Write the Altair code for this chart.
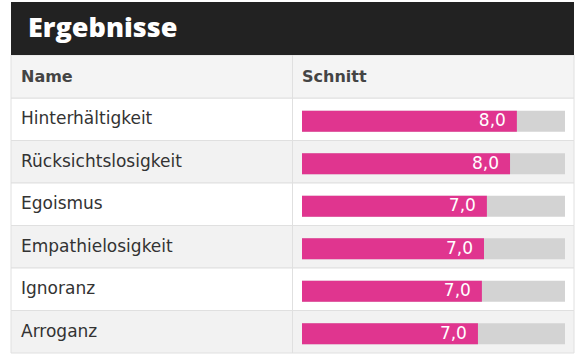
import altair as alt
import pandas as pd

# ---- data ----
names = ["Hinterhältigkeit", "Rücksichtslosigkeit", "Egoismus",
         "Empathielosigkeit", "Ignoranz", "Arroganz"]
values = [8.17, 7.91, 7.03, 6.92, 6.84, 6.69]
labels = ["8,0", "8,0", "7,0", "7,0", "7,0", "7,0"]
scale_max = 10
title_text = "Ergebnisse"
col_headers = ["Name", "Schnitt"]

df = pd.DataFrame({
    "name": names,
    "value": values,
    "label": labels,
    "row": list(range(len(names))),
    "full": [scale_max] * len(names),
    "zero": [0] * len(names),
})

FONT = "DejaVu Sans"
PINK = "#E0358F"

yscale = alt.Scale(domain=names, range=[98, 353], paddingInner=0, paddingOuter=0)
xscale = alt.Scale(domain=[0, scale_max], range=[302, 565], nice=False, zero=True)
Y = alt.Y("name:N", scale=yscale, axis=None, sort=names)

base = alt.Chart(df)

row_bg = base.mark_rect(stroke="#e0e0e0", strokeWidth=1).encode(
    y=Y,
    x=alt.value(11), x2=alt.value(574),
    color=alt.Color("row:O", scale=alt.Scale(domain=[0, 1, 2, 3, 4, 5],
                    range=["#ffffff", "#f2f2f2", "#ffffff", "#f2f2f2", "#ffffff", "#f2f2f2"]),
                    legend=None),
)

hdr_df = pd.DataFrame({"h": col_headers, "px": [21, 302]})
header_bg = alt.Chart(hdr_df.head(1)).mark_rect(fill="#f4f4f4", stroke="#e0e0e0", strokeWidth=1).encode(
    x=alt.value(11), x2=alt.value(574), y=alt.value(55), y2=alt.value(98)
)
header_txt = alt.Chart(hdr_df).mark_text(
    align="left", baseline="middle", font=FONT, fontSize=16, fontWeight="bold", color="#444444"
).encode(x=alt.X("px:Q", scale=None), y=alt.value(77), text="h:N")

divider = alt.Chart(hdr_df.head(1)).mark_rule(color="#e0e0e0", strokeWidth=1).encode(
    x=alt.value(292.5), y=alt.value(55), y2=alt.value(353)
)

title_df = pd.DataFrame({"t": [title_text]})
title_bg = alt.Chart(title_df).mark_rect(fill="#222222").encode(
    x=alt.value(11), x2=alt.value(574), y=alt.value(2), y2=alt.value(55)
)
title_txt = alt.Chart(title_df).mark_text(
    align="left", baseline="alphabetic", font="Open Sans", fontSize=27, fontWeight=800, color="#ffffff"
).encode(x=alt.value(28), y=alt.value(37), text="t:N")

bg_bar = base.mark_bar(color="#d3d3d3", size=21, yOffset=2).encode(
    y=Y, x=alt.X("full:Q", scale=xscale, axis=None), x2="zero:Q"
)
bar = base.mark_bar(color=PINK, size=21, yOffset=2).encode(
    y=Y, x=alt.X("value:Q", scale=xscale, axis=None), x2="zero:Q"
)
val_txt = base.mark_text(
    align="right", baseline="middle", dx=-11, dy=2, font=FONT, fontSize=17, color="#ffffff"
).encode(y=Y, x=alt.X("value:Q", scale=xscale, axis=None), text="label:N")

name_txt = base.mark_text(
    align="left", baseline="middle", font=FONT, fontSize=17, color="#333333"
).encode(y=Y, x=alt.value(21), text="name:N")

chart = alt.layer(
    row_bg, header_bg, divider, title_bg, title_txt, header_txt,
    bg_bar, bar, val_txt, name_txt
).resolve_scale(color="independent").properties(
    width=582, height=354, autosize=alt.AutoSizeParams(type="none"), padding=0,
    background="#ffffff"
).configure_view(stroke=None)

chart.save("out.html", embed_options={"renderer": "svg", "actions": False})
